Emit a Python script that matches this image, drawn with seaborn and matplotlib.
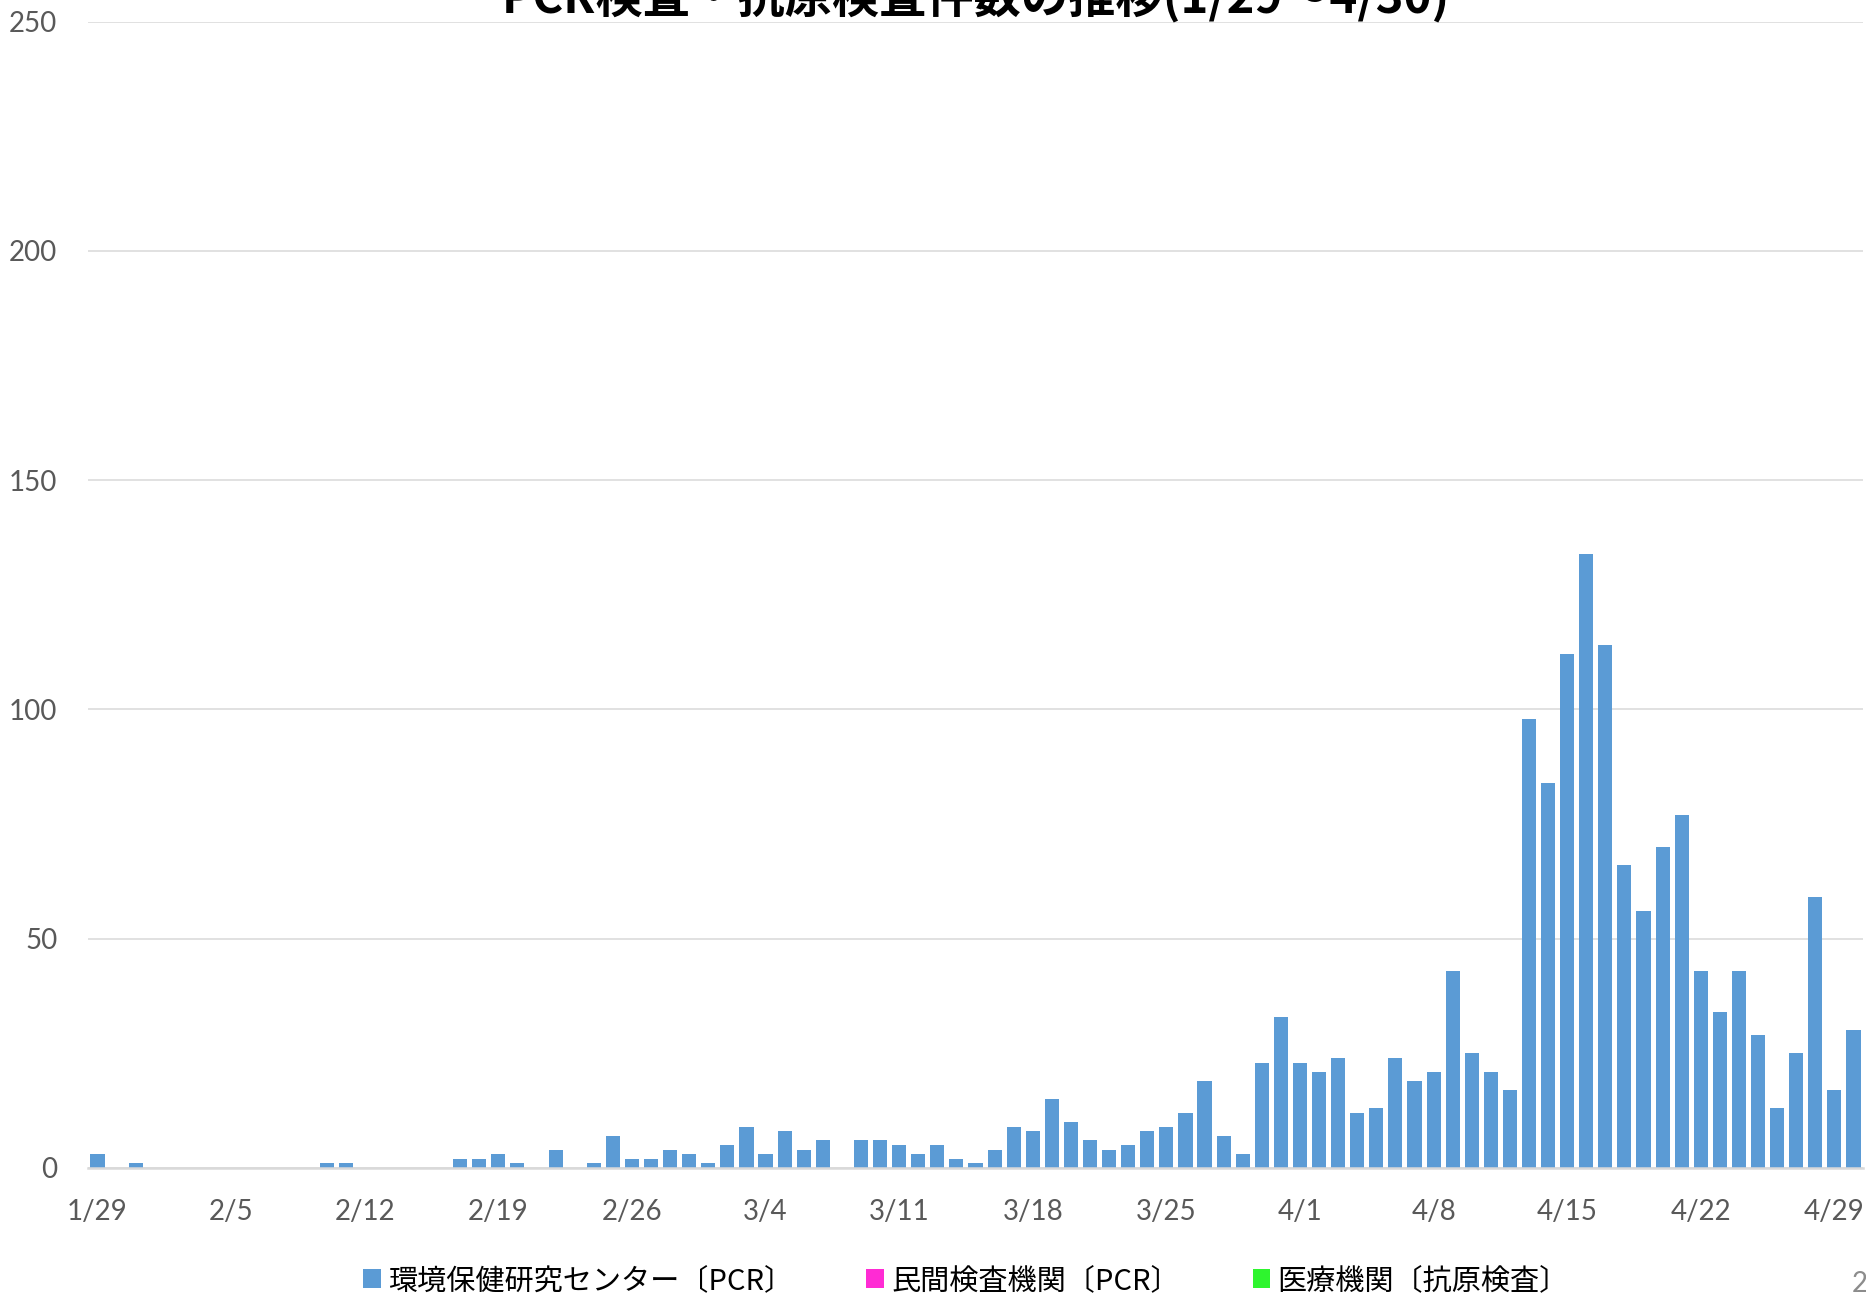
import matplotlib
matplotlib.use("Agg")
import matplotlib.pyplot as plt
import seaborn as sns
import pandas as pd
import datetime as dt

# Daily test counts, 2020-01-29 .. 2020-04-30
start_date = dt.date(2020, 1, 29)
series_names = ["環境保健研究センター〔PCR〕", "民間検査機関〔PCR〕", "医療機関〔抗原検査〕"]
series_colors = ["#5B9BD5", "#FF2BD4", "#2EF52E"]

env_center_pcr = (
    # Jan 29-31
    [3, 0, 1]
    # Feb 1-29
    + [0, 0, 0, 0, 0, 0, 0, 0, 0, 1, 1, 0, 0, 0, 0, 0, 2, 2, 3, 1, 0, 4, 0, 1, 7, 2, 2, 4, 3]
    # Mar 1-31
    + [1, 5, 9, 3, 8, 4, 6, 0, 6, 6, 5, 3, 5, 2, 1, 4, 9, 8, 15, 10, 6, 4, 5, 8, 9, 12, 19, 7, 3, 23, 33]
    # Apr 1-30
    + [23, 21, 24, 12, 13, 24, 19, 21, 43, 25, 21, 17, 98, 84, 112, 134, 114, 66, 56, 70, 77, 43, 34, 43, 29, 13, 25, 59, 17, 30]
)
private_lab_pcr = [0] * len(env_center_pcr)
clinic_antigen = [0] * len(env_center_pcr)

day_labels = [f"{d.month}/{d.day}" for d in
              (start_date + dt.timedelta(days=i) for i in range(len(env_center_pcr)))]
y_ticks = [0, 50, 100, 150, 200, 250]
title_text = "PCR検査・抗原検査件数の推移(1/29～4/30)"

frames = []
for name, vals in zip(series_names, [env_center_pcr, private_lab_pcr, clinic_antigen]):
    frames.append(pd.DataFrame({"day": day_labels, "count": vals, "source": name}))
df = pd.concat(frames, ignore_index=True)

sns.set_theme(style="white")
plt.rcParams["font.family"] = ["Lato", "Noto Sans CJK JP", "DejaVu Sans"]

W, H = 1866, 1297
fig = plt.figure(figsize=(W / 100, H / 100), dpi=100)
ax = fig.add_axes([88 / W, 1 - 1168 / H, (1863 - 88) / W, (1168 - 21.7) / H])

sns.barplot(data=df, x="day", y="count", hue="source", hue_order=series_names,
            order=day_labels, palette=series_colors, saturation=1, dodge=False,
            width=0.74, linewidth=0, errorbar=None, ax=ax)

handles, labels = ax.get_legend_handles_labels()
if ax.get_legend() is not None:
    ax.get_legend().remove()

ax.set_xlim(-0.5, len(day_labels) - 0.5)
ax.set_ylim(0, 250)
ax.set_yticks(y_ticks)
ax.set_yticklabels([str(v) for v in y_ticks])
tick_pos = list(range(0, len(day_labels), 7))
ax.set_xticks(tick_pos)
ax.set_xticklabels([day_labels[i] for i in tick_pos])
ax.set_xlabel("")
ax.set_ylabel("")

ax.grid(axis="y", color="#D9D9D9", linewidth=1.1)
ax.grid(axis="x", visible=False)
ax.set_axisbelow(True)
for side in ["left", "right", "top"]:
    ax.spines[side].set_visible(False)
ax.spines["bottom"].set_color("#D9D9D9")
ax.spines["bottom"].set_linewidth(1.8)
ax.tick_params(axis="both", length=0, labelsize=20, labelcolor="#595959")
ax.tick_params(axis="y", pad=22)
ax.tick_params(axis="x", pad=22)

fig.legend(handles, labels, loc="center", bbox_to_anchor=(966 / W, 1 - 1281 / H),
           ncol=3, frameon=False, prop={"family": "Noto Sans CJK JP", "size": 21},
           handlelength=0.6, handleheight=0.6, handletextpad=0.25, columnspacing=2.5,
           labelcolor="black")

fig.text(976 / W, 1 - 13 / H, title_text, ha="center", va="baseline",
         fontsize=34, fontweight="bold", family="Noto Sans CJK JP", color="black")
fig.text(1852 / W, 1 - 1284 / H, "2", ha="left", va="center", fontsize=20, color="#8C8C8C")

fig.savefig("out.png", dpi=100, facecolor="white")
